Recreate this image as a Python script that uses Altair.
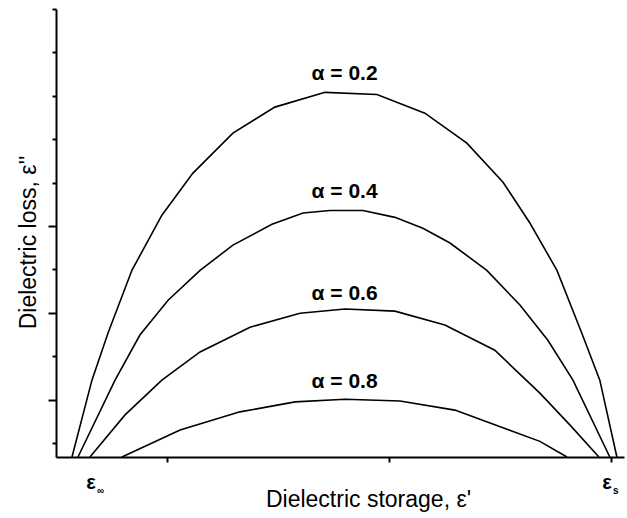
import altair as alt
import pandas as pd

# Cole-Cole arcs (x: storage units, y: loss units)
a02_x = [7.2, 16.2, 23.4, 34.2, 47.7, 61.7, 79.7, 98.6, 121.2, 144.6, 166.2, 185.1, 201.4, 213.5, 225.7, 236.9, 245.0, 252.7]
a02_y = [0.0, 17.7, 28.5, 43.0, 55.7, 65.4, 74.6, 80.6, 84.0, 83.5, 79.2, 72.3, 63.3, 53.9, 43.0, 28.5, 17.7, 0.0]

a04_x = [9.9, 26.6, 37.8, 50.5, 64.9, 79.7, 97.3, 111.3, 123.4, 138.3, 152.7, 165.3, 177.5, 194.1, 209.0, 221.6, 232.9, 249.5]
a04_y = [0.0, 17.7, 28.1, 36.1, 43.0, 48.8, 53.6, 56.2, 56.8, 56.8, 55.2, 52.7, 49.3, 43.0, 35.0, 26.9, 17.7, 0.0]

a06_x = [15.3, 31.1, 47.7, 64.9, 87.4, 109.9, 130.2, 152.7, 175.2, 197.7, 218.0, 231.5, 244.6]
a06_y = [0.0, 9.7, 17.7, 24.2, 29.9, 33.1, 34.1, 33.6, 30.4, 24.6, 14.7, 7.4, 0.0]

a08_x = [29.7, 55.9, 82.9, 107.7, 130.2, 155.0, 179.7, 204.1, 218.0, 230.2]
a08_y = [0.0, 6.2, 10.4, 12.7, 13.3, 12.9, 10.8, 6.2, 3.6, 0.0]

series_names = ["α = 0.2", "α = 0.4", "α = 0.6", "α = 0.8"]
label_x = [130.0, 130.0, 130.0, 130.0]
label_y = [86.8, 59.6, 36.1, 15.9]

x_ticks = [50, 150, 250]
y_ticks = [3.2, 13.2, 23.2, 33.2, 43.2, 53.2, 63.2, 73.2, 83.2, 93.2, 103.2]
y_major = [13.2, 33.2, 53.2]

eps_x = [15.8, 248.2]
eps_y = [-7.4, -7.4]
eps_sub = ["∞", "s"]

rows = []
for name, xs, ys in zip(series_names, [a02_x, a04_x, a06_x, a08_x], [a02_y, a04_y, a06_y, a08_y]):
    for i, (x, y) in enumerate(zip(xs, ys)):
        rows.append({"series": name, "x": x, "y": y, "order": i})
df = pd.DataFrame(rows)

lab_df = pd.DataFrame({"label": series_names, "x": label_x, "y": label_y})
eps_df = pd.DataFrame({"x": eps_x, "y": eps_y, "sub": eps_sub, "main": ["ε", "ε"]})

FONT = "Liberation Sans"
x_scale = alt.Scale(domain=[0, 255.9], nice=False, zero=False)
y_scale = alt.Scale(domain=[0, 103.2], nice=False, zero=False)

major_test = " || ".join(f"abs(datum.value - {v}) < 0.01" for v in y_major)

x_axis = alt.Axis(
    values=x_ticks, labels=False, grid=False,
    domainColor="black", domainWidth=2, tickColor="black", tickWidth=2, tickSize=5,
    title="Dielectric storage, ε'", titleFont=FONT, titleFontSize=23, titleFontWeight="normal",
    titleColor="black", titleX=312, titleY=49, titleBaseline="alphabetic", titleAlign="center",
)
y_axis = alt.Axis(
    values=y_ticks, labels=False, grid=False,
    domainColor="black", domainWidth=2, tickColor="black", tickWidth=2,
    tickSize={"condition": {"test": major_test, "value": 8}, "value": 4},
    title="Dielectric loss, ε''", titleFont=FONT, titleFontSize=23, titleFontWeight="normal",
    titleColor="black", titleAngle=270, titleX=-21, titleY=233, titleBaseline="alphabetic",
    titleAlign="center",
)

lines = alt.Chart(df).mark_line(color="black", strokeWidth=1.6).encode(
    x=alt.X("x:Q", scale=x_scale, axis=x_axis),
    y=alt.Y("y:Q", scale=y_scale, axis=y_axis),
    detail="series:N",
    order="order:Q",
)

labels = alt.Chart(lab_df).mark_text(
    font=FONT, fontSize=21, fontWeight="bold", color="black", align="center", baseline="alphabetic"
).encode(x=alt.X("x:Q", scale=x_scale), y=alt.Y("y:Q", scale=y_scale), text="label:N")

eps_main = alt.Chart(eps_df).mark_text(
    font=FONT, fontSize=20, fontWeight="bold", color="black", align="center", baseline="alphabetic"
).encode(x=alt.X("x:Q", scale=x_scale), y=alt.Y("y:Q", scale=y_scale), text="main:N")

eps_subs = alt.Chart(eps_df).mark_text(
    font=FONT, fontSize=10, fontWeight="bold", color="black", align="left", baseline="alphabetic",
    dx=6, dy=5,
).encode(x=alt.X("x:Q", scale=x_scale), y=alt.Y("y:Q", scale=y_scale), text="sub:N")

chart = alt.layer(lines, labels, eps_main, eps_subs).properties(
    width=568, height=448,
    autosize=alt.AutoSizeParams(type="none"),
    padding={"left": 56, "top": 9, "right": 3, "bottom": 61},
    background="white",
).configure_view(stroke=None)

chart.save("out.html", embed_options={"renderer": "svg", "actions": False})
